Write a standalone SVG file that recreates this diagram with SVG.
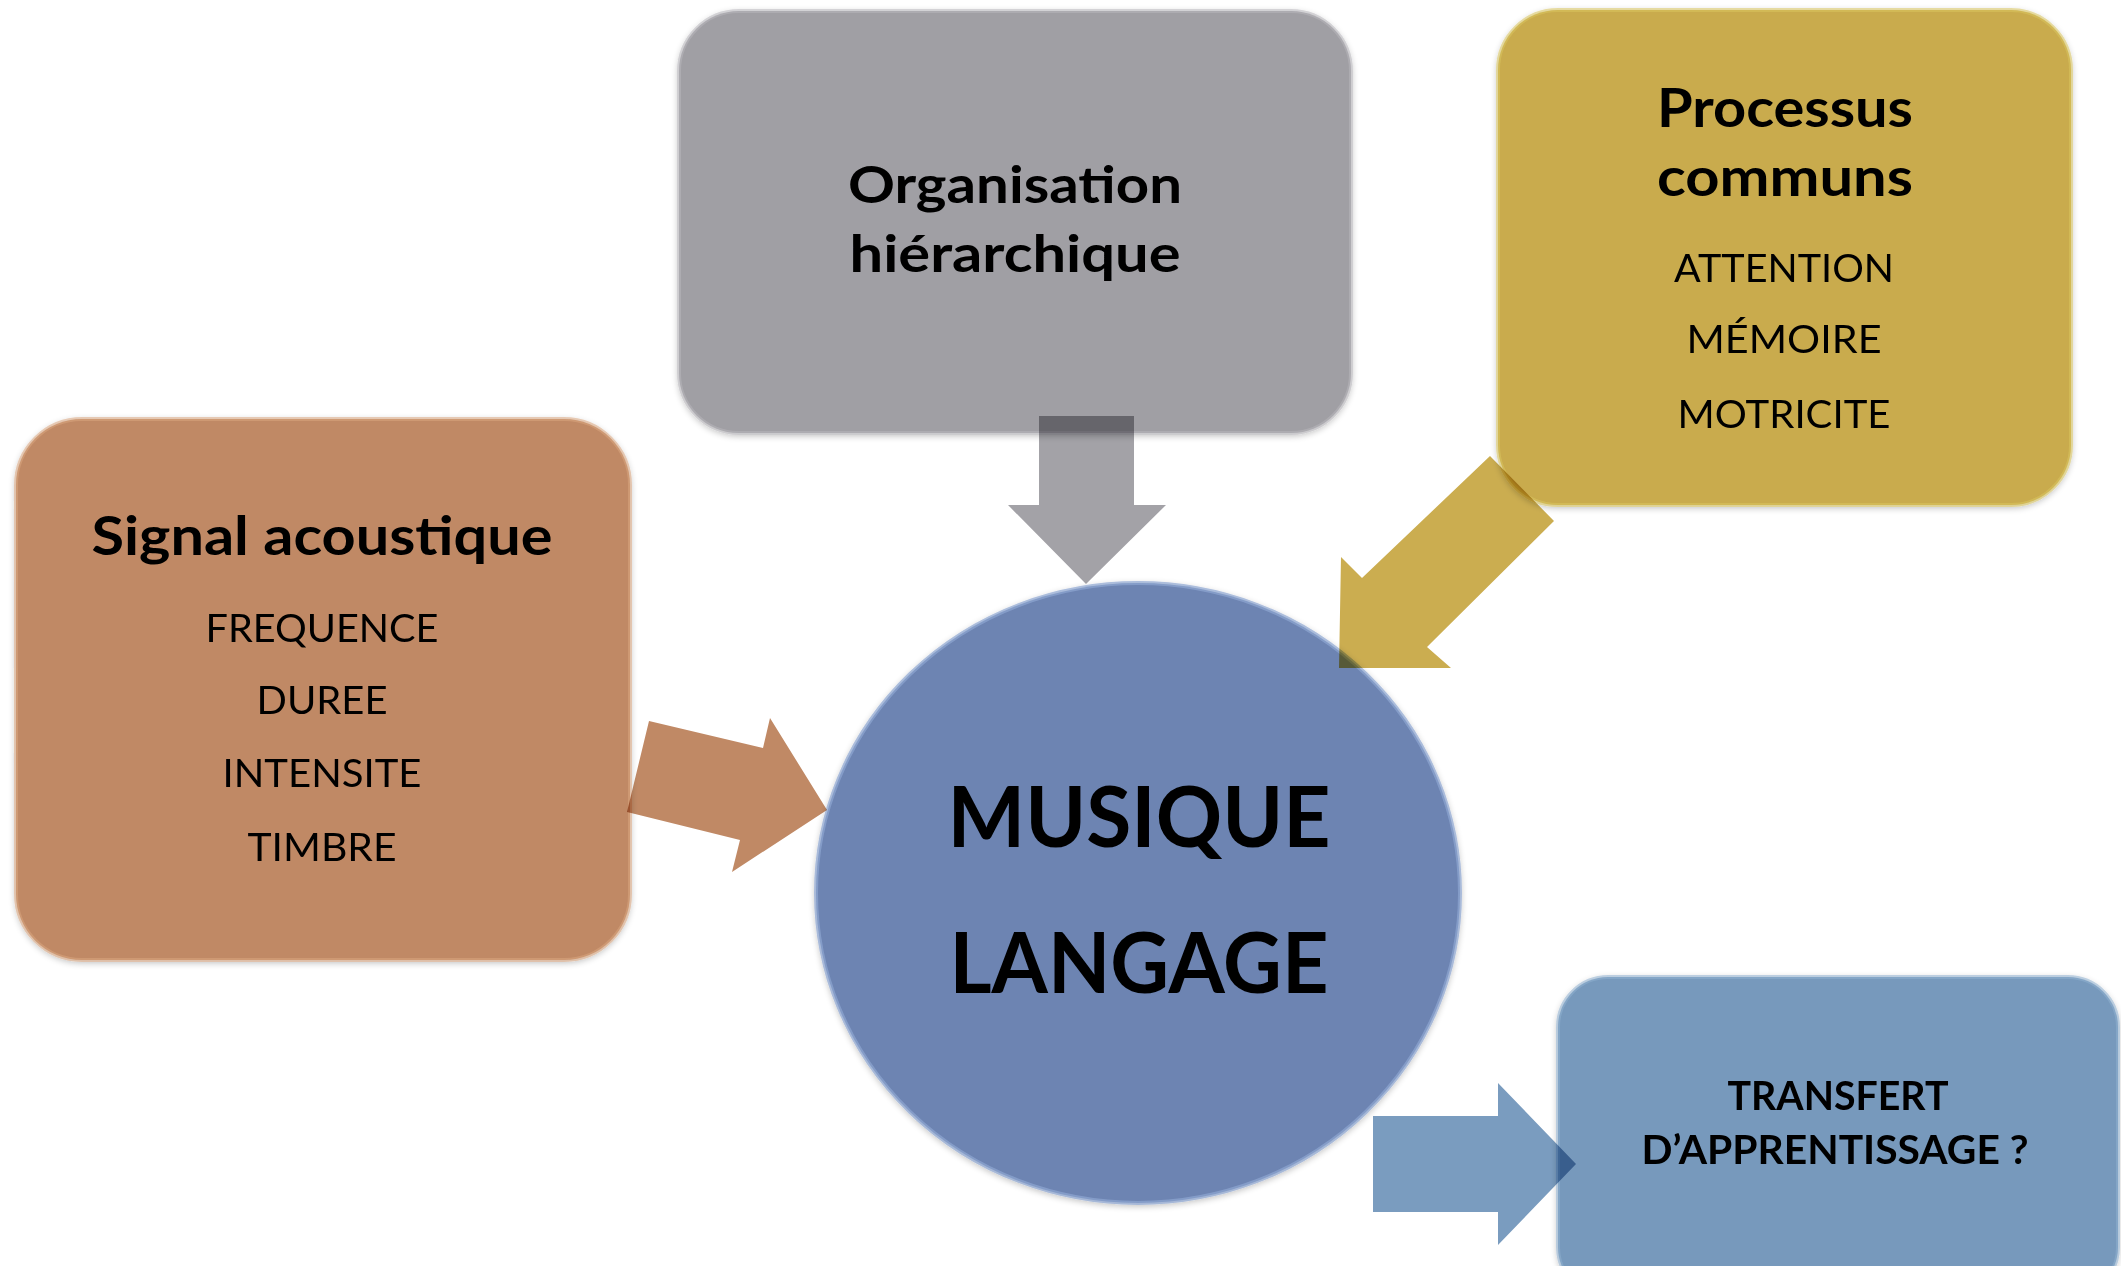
<svg xmlns="http://www.w3.org/2000/svg" width="2121" height="1266" viewBox="0 0 2121 1266">
<defs>
<style>
.t{font-family:Lato,"Open Sans","Liberation Sans",sans-serif;fill:#000;text-anchor:middle}
.b{font-weight:700}
.box{stroke-width:4;stroke-opacity:0.55}
.arr{mix-blend-mode:multiply}
</style>
<filter id="soft" x="-5%" y="-5%" width="110%" height="110%">
<feGaussianBlur in="SourceAlpha" stdDeviation="3"/>
<feOffset dy="2" result="o"/>
<feComponentTransfer><feFuncA type="linear" slope="0.25"/></feComponentTransfer>
<feMerge><feMergeNode/><feMergeNode in="SourceGraphic"/></feMerge>
</filter>
</defs>
<rect width="2121" height="1266" fill="#fff"/>

<g id="node-signal" filter="url(#soft)">
<rect class="box" x="16" y="419" width="614" height="541" rx="66" fill="#C08965" stroke="#D9A57F"/>
<text class="t b" x="322" y="555" font-size="54" textLength="461" lengthAdjust="spacingAndGlyphs">Signal acoustique</text>
<text class="t" x="322" y="642" font-size="39" textLength="233" lengthAdjust="spacingAndGlyphs">FREQUENCE</text>
<text class="t" x="322" y="714" font-size="39" textLength="131" lengthAdjust="spacingAndGlyphs">DUREE</text>
<text class="t" x="322" y="787" font-size="39" textLength="199" lengthAdjust="spacingAndGlyphs">INTENSITE</text>
<text class="t" x="322" y="861" font-size="39" textLength="149" lengthAdjust="spacingAndGlyphs">TIMBRE</text>
</g>

<g id="node-organisation" filter="url(#soft)">
<rect class="box" x="679" y="11" width="672" height="422" rx="60" fill="#A09FA4" stroke="#B8B7BC"/>
<text class="t b" x="1015" y="203" font-size="52" textLength="334" lengthAdjust="spacingAndGlyphs">Organisation</text>
<text class="t b" x="1015" y="272" font-size="52" textLength="331" lengthAdjust="spacingAndGlyphs">hiérarchique</text>
</g>

<g id="node-processus" filter="url(#soft)">
<rect class="box" x="1498" y="10" width="573" height="495" rx="60" fill="#C9AB4E" stroke="#D9C45E"/>
<text class="t b" x="1785" y="127" font-size="53" textLength="256" lengthAdjust="spacingAndGlyphs">Processus</text>
<text class="t b" x="1785" y="196" font-size="53" textLength="256" lengthAdjust="spacingAndGlyphs">communs</text>
<text class="t" x="1784" y="282" font-size="39" textLength="220" lengthAdjust="spacingAndGlyphs">ATTENTION</text>
<text class="t" x="1784" y="353" font-size="39" textLength="195" lengthAdjust="spacingAndGlyphs">MÉMOIRE</text>
<text class="t" x="1784" y="428" font-size="39" textLength="213" lengthAdjust="spacingAndGlyphs">MOTRICITE</text>
</g>

<g id="node-musique" filter="url(#soft)">
<ellipse cx="1138" cy="893" rx="322" ry="310" fill="#6D84B2" stroke="#8FA6D2" stroke-width="4" stroke-opacity="0.7"/>
<text class="t b" x="1139" y="847" font-size="84" textLength="383" lengthAdjust="spacingAndGlyphs">MUSIQUE</text>
<text class="t b" x="1139" y="993" font-size="84" textLength="379" lengthAdjust="spacingAndGlyphs">LANGAGE</text>
</g>

<g id="node-transfert" filter="url(#soft)">
<rect class="box" x="1558" y="977" width="560" height="320" rx="50" fill="#7799BC" stroke="#8FB0D0"/>
<text class="t b" x="1838" y="1110" font-size="40" textLength="221" lengthAdjust="spacingAndGlyphs">TRANSFERT</text>
<text class="t b" x="1835" y="1164" font-size="40" textLength="387" lengthAdjust="spacingAndGlyphs">D’APPRENTISSAGE ?</text>
</g>

<g id="connectors">
<polygon class="arr" points="1039,416 1134,416 1134,505 1166,505 1086,584 1008,505 1039,505" fill="#A3A2A7"/>
<polygon class="arr" points="649,721 763,748 770,718 827,810 732,872 740,840 627,812" fill="#C08965"/>
<polygon class="arr" points="1490,456 1554,521 1427,647 1451,668 1339,668 1341,557 1362,578" fill="#CBAD50"/>
<polygon class="arr" points="1373,1116 1498,1116 1498,1083 1576,1164 1498,1245 1498,1212 1373,1212" fill="#7A9CBF"/>
</g>
</svg>
